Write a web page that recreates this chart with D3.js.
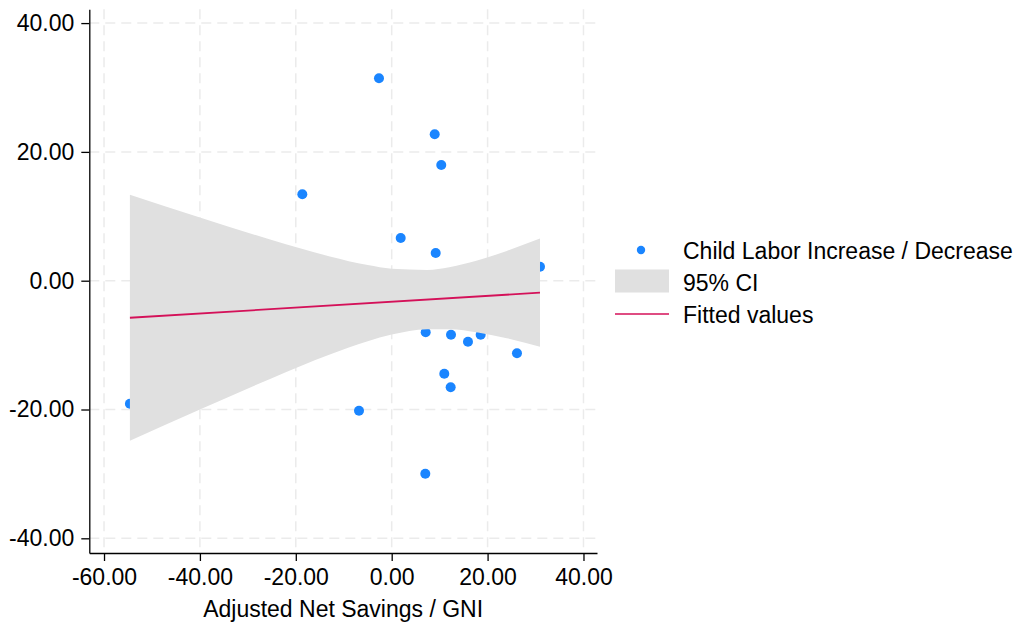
<!DOCTYPE html>
<html>
<head>
<meta charset="utf-8">
<script src="https://cdn.jsdelivr.net/npm/d3@7"></script>
<style>
  html, body { margin: 0; padding: 0; background: #ffffff; }
  svg { display: block; font-family: "Liberation Sans", Arial, Helvetica, sans-serif; }
</style>
</head>
<body>
<svg id="chart" width="1020" height="628"></svg>
<script>
// Observations: adjusted net savings (% of GNI) vs change in child labor
const savings    = [-18.64, -2.65, 8.97, 10.34, 1.88, 9.18, 30.93, 7.09, 12.37, 15.91, 18.56, 26.13, 10.97, 12.30, -6.82, 7.01, -54.6];
const childLabor = [13.42, 31.43, 22.73, 17.97, 6.63, 4.30, 2.17, -8.01, -8.39, -9.47, -8.39, -11.27, -14.44, -16.55, -20.19, -29.97, -19.10];

// Linear fit and its 95% confidence band
const fitX = [-54.6, 30.93];
const fitY = [-5.75, -1.86];
const ciX  = [-54.6, -40, -25, -12.9, -5, 0, 7.4, 12, 18, 24, 30.93];
const ciHi = [13.35, 9.83, 6.33, 3.77, 2.42, 1.85, 1.68, 2.10, 3.16, 4.62, 6.54];
const ciLo = [-24.85, -20.01, -15.15, -11.47, -9.40, -8.37, -7.52, -7.52, -8.04, -8.94, -10.24];

// Axis ticks
const xTicks = [-60, -40, -20, 0, 20, 40];
const yTicks = [-40, -20, 0, 20, 40];

// Legend entries
const legendLabels = ["Child Labor Increase / Decrease", "95% CI", "Fitted values"];

const BLUE = "#1a85ff", RED = "#d41159", BAND = "#e0e0e0", GRID = "#ebebeb";
const FONT = 23;

const svg = d3.select("#chart");
const x = d3.scaleLinear().domain([-63.07, 42.82]).range([89.3, 597]);
const y = d3.scaleLinear().domain([-42.28, 42.14]).range([553, 9.3]);

const fmt = d3.formatLocale({decimal: ".", thousands: ",", grouping: [3], currency: ["", ""], minus: "-"}).format(".2f");

// Grid
const grid = svg.append("g").attr("stroke", GRID).attr("stroke-width", 1.5).attr("stroke-dasharray", "10,6");
grid.selectAll("line.h").data(yTicks).join("line").attr("class", "h")
  .attr("x1", x.range()[0]).attr("x2", x.range()[1])
  .attr("y1", d => y(d)).attr("y2", d => y(d));
grid.selectAll("line.v").data(xTicks).join("line").attr("class", "v")
  .attr("x1", d => x(d)).attr("x2", d => x(d))
  .attr("y1", y.range()[1]).attr("y2", y.range()[0]);

// Scatter
svg.append("g").selectAll("circle").data(savings).join("circle")
  .attr("cx", d => x(d)).attr("cy", (d, i) => y(childLabor[i]))
  .attr("r", 5).attr("fill", BLUE);

// Confidence band
const bandData = ciX.map((v, i) => [v, ciLo[i], ciHi[i]]);
svg.append("path").datum(bandData)
  .attr("fill", BAND)
  .attr("d", d3.area().x(d => x(d[0])).y0(d => y(d[1])).y1(d => y(d[2])).curve(d3.curveMonotoneX));

// Fitted line
svg.append("path").datum(fitX.map((v, i) => [v, fitY[i]]))
  .attr("fill", "none").attr("stroke", RED).attr("stroke-width", 1.8)
  .attr("d", d3.line().x(d => x(d[0])).y(d => y(d[1])));

// Axes
const yAxis = svg.append("g").attr("transform", `translate(${x.range()[0]},0)`)
  .call(d3.axisLeft(y).tickValues(yTicks).tickFormat(fmt).tickSize(8).tickSizeOuter(0).tickPadding(7));
const xAxis = svg.append("g").attr("transform", `translate(0,${y.range()[0]})`)
  .call(d3.axisBottom(x).tickValues(xTicks).tickFormat(fmt).tickSize(8).tickSizeOuter(0).tickPadding(8));
[yAxis, xAxis].forEach(a => {
  a.selectAll("path.domain").attr("stroke", "#000").attr("stroke-width", 1.3);
  a.selectAll(".tick line").attr("stroke", "#000").attr("stroke-width", 1.3);
  a.selectAll(".tick text").attr("fill", "#000").style("font-size", FONT + "px")
    .style("font-family", "'Liberation Sans', Arial, Helvetica, sans-serif");
});

// Axis title
svg.append("text")
  .attr("x", (x.range()[0] + x.range()[1]) / 2).attr("y", 617)
  .attr("text-anchor", "middle").attr("font-size", FONT).attr("fill", "#000")
  .text("Adjusted Net Savings / GNI");

// Legend
const lg = svg.append("g");
lg.append("circle").attr("cx", 641).attr("cy", 250).attr("r", 4.2).attr("fill", BLUE);
lg.append("rect").attr("x", 615).attr("y", 269.5).attr("width", 54).attr("height", 23).attr("fill", BAND);
lg.append("line").attr("x1", 615).attr("x2", 669).attr("y1", 314).attr("y2", 314)
  .attr("stroke", RED).attr("stroke-width", 1.6);
const baselines = [258.5, 290.5, 323];
lg.selectAll("text").data(legendLabels).join("text")
  .attr("x", 683).attr("y", (d, i) => baselines[i])
  .attr("font-size", FONT).attr("fill", "#000").text(d => d);
</script>
</body>
</html>
